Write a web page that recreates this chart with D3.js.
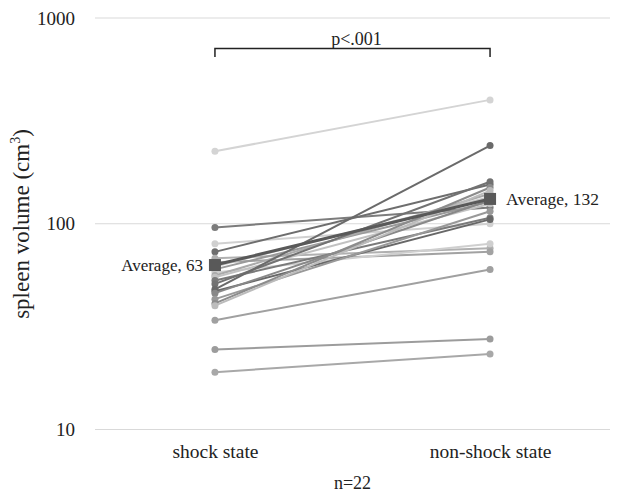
<!DOCTYPE html>
<html>
<head>
<meta charset="utf-8">
<script src="https://cdn.jsdelivr.net/npm/d3@7"></script>
<style>
  body { margin: 0; background: #fff; }
  svg text { font-family: "Times New Roman", "Liberation Serif", "DejaVu Serif", serif; fill: #222; }
</style>
</head>
<body>
<svg id="chart" width="623" height="494"></svg>
<script>
// data
const categories = ["shock state", "non-shock state"];
const shockValues =    [225, 96, 80, 73, 68, 65, 62, 60, 58, 56, 55, 53, 51, 48, 47, 46, 43, 41, 40, 34, 24.5, 19];
const nonShockValues = [400, 120, 100, 155, 76, 73, 135, 128, 80, 140, 125, 107, 160, 240, 105, 130, 115, 150, 145, 60, 27.5, 23.3];
const lineShades = ["#d4d4d4", "#7c7c7c", "#d0d0d0", "#6e6e6e", "#b0b0b0", "#a2a2a2", "#c8c8c8", "#9a9a9a",
  "#cfcfcf", "#aaaaaa", "#c2c2c2", "#7a7a7a", "#727272", "#6a6a6a", "#686868", "#888888", "#999999",
  "#8c8c8c", "#bcbcbc", "#a0a0a0", "#9c9c9c", "#a8a8a8"];
const averages = [63, 132];
const yTicks = [10, 100, 1000];

const svg = d3.select("#chart");

const x = d3.scalePoint()
  .domain(categories)
  .range([95, 610])
  .padding(0.436);
const y = d3.scaleLog()
  .domain([10, 1000])
  .range([429.5, 18]);

// gridlines
svg.append("g")
  .selectAll("line")
  .data(yTicks)
  .join("line")
  .attr("x1", 95).attr("x2", 610)
  .attr("y1", d => y(d)).attr("y2", d => y(d))
  .attr("stroke", "#d9d9d9")
  .attr("stroke-width", 1);

// y axis labels
const yAxis = d3.axisLeft(y).tickValues(yTicks).tickFormat(d3.format("d")).tickSize(0).tickPadding(0);
svg.append("g")
  .attr("transform", "translate(75,0)")
  .call(yAxis)
  .call(g => g.select(".domain").remove())
  .selectAll("text")
  .attr("font-size", 19)
  .attr("fill", "#222");

// x axis labels
const xAxis = d3.axisBottom(x).tickSize(0).tickPadding(0);
svg.append("g")
  .attr("transform", "translate(0,444)")
  .call(xAxis)
  .call(g => g.select(".domain").remove())
  .selectAll("text")
  .attr("font-size", 19.5)
  .attr("fill", "#222");

svg.append("text")
  .attr("x", (x(categories[0]) + x(categories[1])) / 2)
  .attr("y", 489)
  .attr("text-anchor", "middle")
  .attr("font-size", 18)
  .text("n=22");

// y label
const yl = svg.append("text")
  .attr("transform", "translate(29,224) rotate(-90)")
  .attr("text-anchor", "middle")
  .attr("font-size", 23);
yl.append("tspan").text("spleen volume (cm");
yl.append("tspan").attr("font-size", 14).attr("dy", -9).text("3");
yl.append("tspan").attr("dy", 9).text(")");

// subject lines
const pairs = shockValues.map((v, i) => ({ a: v, b: nonShockValues[i], c: lineShades[i] }));
const subj = svg.append("g");
pairs.forEach(p => {
  subj.append("line")
    .attr("x1", x(categories[0])).attr("y1", y(p.a))
    .attr("x2", x(categories[1])).attr("y2", y(p.b))
    .attr("stroke", p.c).attr("stroke-width", 2);
  subj.append("circle").attr("cx", x(categories[0])).attr("cy", y(p.a)).attr("r", 3.5).attr("fill", p.c);
  subj.append("circle").attr("cx", x(categories[1])).attr("cy", y(p.b)).attr("r", 3.5).attr("fill", p.c);
});

// average line
svg.append("line")
  .attr("x1", x(categories[0])).attr("y1", y(averages[0]))
  .attr("x2", x(categories[1])).attr("y2", y(averages[1]))
  .attr("stroke", "#595959").attr("stroke-width", 3);
svg.append("g")
  .selectAll("rect")
  .data(averages)
  .join("rect")
  .attr("x", (d, i) => x(categories[i]) - 6)
  .attr("y", d => y(d) - 6)
  .attr("width", 12).attr("height", 12)
  .attr("fill", "#595959");

svg.append("text")
  .attr("x", x(categories[0]) - 12)
  .attr("y", y(averages[0]) + 6)
  .attr("text-anchor", "end")
  .attr("font-size", 17)
  .text("Average,  " + averages[0]);
svg.append("text")
  .attr("x", x(categories[1]) + 16)
  .attr("y", y(averages[1]) + 6)
  .attr("font-size", 17.5)
  .text("Average,  " + averages[1]);

// significance bracket
const bx1 = x(categories[0]), bx2 = x(categories[1]);
svg.append("path")
  .attr("d", `M${bx1},57V48.5H${bx2}V57`)
  .attr("fill", "none")
  .attr("stroke", "#222")
  .attr("stroke-width", 1.5);
svg.append("text")
  .attr("x", (bx1 + bx2) / 2 + 4)
  .attr("y", 45)
  .attr("text-anchor", "middle")
  .attr("font-size", 18)
  .text("p<.001");
</script>
</body>
</html>
